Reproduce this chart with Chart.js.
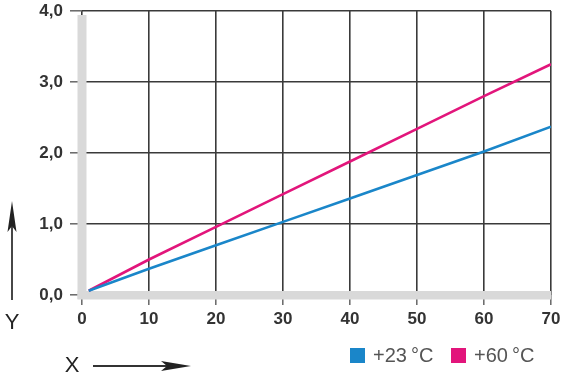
<!DOCTYPE html>
<html>
<head>
<meta charset="utf-8">
<script src="https://cdn.jsdelivr.net/npm/chart.js@4"></script>
<style>
html,body{margin:0;padding:0;background:#fff;}
#wrap{width:570px;height:379px;position:relative;}
</style>
</head>
<body>
<div id="wrap"><canvas id="c" width="570" height="379"></canvas></div>
<script>
const xValues = [1, 10, 20, 30, 40, 50, 60, 70];
const blue23 = [0.06, 0.37, 0.70, 1.03, 1.36, 1.69, 2.02, 2.37];
const magenta60 = [0.06, 0.50, 0.96, 1.42, 1.88, 2.34, 2.80, 3.25];
const seriesNames = ['+23\u202F\u00B0C', '+60\u202F\u00B0C'];
const seriesColors = ['#1a86c9', '#e2157b'];
const xTicks = [0, 10, 20, 30, 40, 50, 60, 70];
const yTicks = [0, 1, 2, 3, 4];

const toPts = arr => arr.map((v, i) => ({x: xValues[i], y: v}));

const decor = {
  id: 'decor',
  beforeDatasetsDraw(chart) {
    const ctx = chart.ctx;
    const xs = chart.scales.x, ys = chart.scales.y;
    const x0 = xs.getPixelForValue(0), y0 = ys.getPixelForValue(0);
    const xr = xs.getPixelForValue(70), yt = ys.getPixelForValue(4);
    ctx.save();
    ctx.fillStyle = '#d9d9d9';
    ctx.fillRect(x0 - 4.5, yt + 4, 9, y0 - yt);
    ctx.fillRect(x0 - 4.5, y0 - 4, xr - x0 + 4.5, 8.5);
    ctx.restore();
  },
  afterDraw(chart) {
    const ctx = chart.ctx;
    ctx.save();
    ctx.strokeStyle = '#333';
    ctx.fillStyle = '#222';
    ctx.lineWidth = 1.8;
    // Y arrow
    ctx.beginPath(); ctx.moveTo(12, 300); ctx.lineTo(12, 215); ctx.stroke();
    ctx.beginPath(); ctx.moveTo(12, 201); ctx.lineTo(16.5, 232); ctx.lineTo(12, 226); ctx.lineTo(7.5, 232); ctx.closePath(); ctx.fill();
    // X arrow
    ctx.beginPath(); ctx.moveTo(93, 366); ctx.lineTo(175, 366); ctx.stroke();
    ctx.beginPath(); ctx.moveTo(191, 366); ctx.lineTo(161, 361); ctx.lineTo(167, 366); ctx.lineTo(161, 371); ctx.closePath(); ctx.fill();
    // Axis letters
    ctx.fillStyle = '#222';
    ctx.font = '22px "Liberation Sans", Arial, sans-serif';
    ctx.textAlign = 'center'; ctx.textBaseline = 'middle';
    ctx.fillText('Y', 12, 323);
    ctx.fillText('X', 72, 366);
    // Legend
    ctx.font = '20px "Liberation Sans", Arial, sans-serif';
    ctx.textAlign = 'left';
    const items = [{x: 350, tx: 373, t: seriesNames[0], c: seriesColors[0]}, {x: 451, tx: 474, t: seriesNames[1], c: seriesColors[1]}];
    items.forEach(it => {
      ctx.fillStyle = it.c;
      ctx.fillRect(it.x, 348, 15, 15);
      ctx.fillStyle = '#555';
      ctx.fillText(it.t, it.tx, 356);
    });
    ctx.restore();
  }
};

const tickFont = {family: '"Liberation Sans", Arial, sans-serif', size: 17, weight: 'bold'};

new Chart(document.getElementById('c'), {
  type: 'scatter',
  data: {
    datasets: [
      {label: seriesNames[0], data: toPts(blue23), showLine: true, borderColor: seriesColors[0], borderWidth: 2.6, pointRadius: 0, fill: false},
      {label: seriesNames[1], data: toPts(magenta60), showLine: true, borderColor: seriesColors[1], borderWidth: 2.6, pointRadius: 0, fill: false}
    ]
  },
  options: {
    responsive: false,
    animation: false,
    layout: {padding: {top: 11, right: 19, left: 0, bottom: 0}},
    plugins: {legend: {display: false}, tooltip: {enabled: false}},
    scales: {
      x: {
        type: 'linear', min: 0, max: 70,
        afterBuildTicks: s => { s.ticks = xTicks.map(v => ({value: v})); },
        afterFit: s => { s.height = 84; s.paddingLeft = 0; s.paddingRight = 0; },
        grid: {color: '#3a3a3a', lineWidth: 1.6, tickLength: 10, tickColor: '#666', tickWidth: 1.5},
        border: {display: false},
        ticks: {color: '#333', font: tickFont, padding: 4, maxRotation: 0}
      },
      y: {
        type: 'linear', min: 0, max: 4,
        afterBuildTicks: s => { s.ticks = yTicks.map(v => ({value: v})); },
        afterFit: s => { s.width = 82; s.paddingTop = 0; s.paddingBottom = 0; },
        grid: {color: '#3a3a3a', lineWidth: 1.6, tickLength: 12, tickColor: '#666', tickWidth: 1.5},
        border: {display: false},
        ticks: {color: '#333', font: tickFont, padding: 7,
          callback: v => v.toFixed(1).replace('.', ',')}
      }
    }
  },
  plugins: [decor]
});
</script>
</body>
</html>
